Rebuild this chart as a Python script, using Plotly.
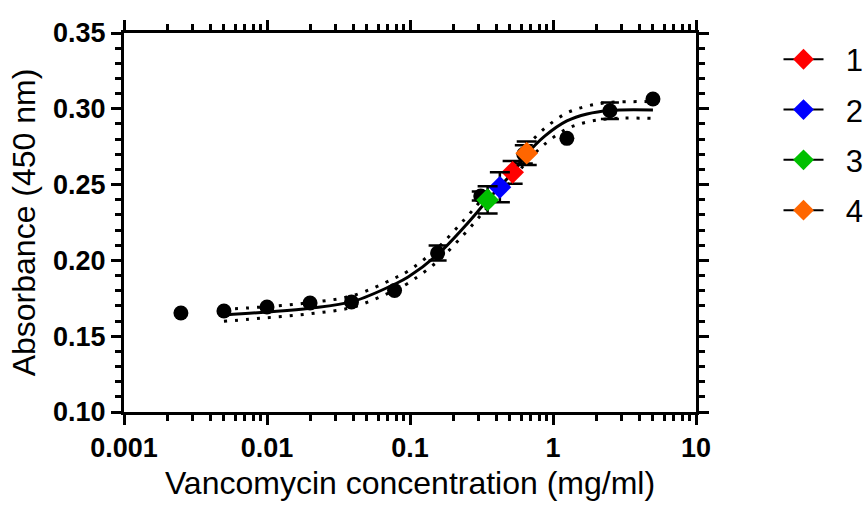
import plotly.graph_objects as go

# Standard curve: vancomycin dilution series (mg/ml) and mean absorbance at 450 nm
std_conc = [0.0025, 0.005, 0.01, 0.02, 0.039, 0.078, 0.156, 0.3125, 0.625, 1.25, 2.5, 5]
std_abs = [0.1653, 0.1666, 0.1693, 0.1719, 0.1726, 0.1801, 0.2049, 0.2425, 0.270, 0.2805, 0.2987, 0.3065]
std_err = [0, 0, 0, 0, 0, 0, 0.005, 0.003, 0.006, 0, 0.0054, 0]

# Fitted sigmoidal curve with its confidence band
fit_conc = [0.005, 0.01, 0.02, 0.04, 0.0785, 0.097, 0.155, 0.243, 0.349, 0.525, 0.657, 0.879, 1.25, 1.73, 2.5, 5]
fit_abs = [0.164, 0.166, 0.1685, 0.173, 0.1844, 0.189, 0.2036, 0.2227, 0.2398, 0.2583, 0.2702, 0.2821, 0.292, 0.2966, 0.2989, 0.2992]
band_hi = [0.1677, 0.1695, 0.1722, 0.1768, 0.1884, 0.193, 0.208, 0.2275, 0.2445, 0.263, 0.2752, 0.2873, 0.2972, 0.3018, 0.3042, 0.3047]
band_lo = [0.1598, 0.1622, 0.1648, 0.1692, 0.1804, 0.185, 0.1992, 0.218, 0.235, 0.2535, 0.2652, 0.2768, 0.2868, 0.2913, 0.2935, 0.2937]

# Samples read back on the curve
sample_names = ["1", "2", "3", "4"]
sample_conc = [0.522, 0.425, 0.349, 0.655]
sample_abs = [0.2581, 0.2482, 0.2399, 0.2707]
sample_err = [0.0075, 0.0099, 0.009, 0.0077]
sample_colors = ["#FF0000", "#0000FF", "#00C000", "#FF6600"]

x_ticks = [0.001, 0.01, 0.1, 1, 10]
x_ticktext = ["0.001", "0.01", "0.1", "1", "10"]

FONT = "Liberation Sans, Arial, sans-serif"

fig = go.Figure()

# confidence band (dotted)
for band in (band_hi, band_lo):
    fig.add_trace(go.Scatter(
        x=fit_conc, y=band, mode="lines", showlegend=False, hoverinfo="skip",
        line=dict(color="black", width=3, dash="3px,8px", shape="spline"),
    ))

# fitted curve
fig.add_trace(go.Scatter(
    x=fit_conc, y=fit_abs, mode="lines", showlegend=False,
    line=dict(color="black", width=3, shape="spline"),
))

# standards without / with error bars
no_err = [i for i, e in enumerate(std_err) if e == 0]
with_err = [i for i, e in enumerate(std_err) if e > 0]
fig.add_trace(go.Scatter(
    x=[std_conc[i] for i in no_err], y=[std_abs[i] for i in no_err],
    mode="markers", showlegend=False,
    marker=dict(symbol="circle", size=15, color="black"),
))
fig.add_trace(go.Scatter(
    x=[std_conc[i] for i in with_err], y=[std_abs[i] for i in with_err],
    mode="markers", showlegend=False,
    marker=dict(symbol="circle", size=15, color="black"),
    error_y=dict(type="data", array=[std_err[i] for i in with_err],
                 color="black", thickness=2.5, width=9),
))

# samples (legend text padded so it sits clear of the symbol)
for name, cx, cy, ce, col in zip(sample_names, sample_conc, sample_abs, sample_err, sample_colors):
    fig.add_trace(go.Scatter(
        x=[cx], y=[cy], name="\u00a0\u00a0" + name, mode="lines+markers",
        line=dict(color="black", width=2),
        marker=dict(symbol="diamond", size=17.5, color=col),
        error_y=dict(type="data", array=[ce], color="black", thickness=2.5, width=10),
        legendgroup=name,
    ))

minor_x = [m * 10 ** e for e in range(-3, 1) for m in range(2, 10)]

axis_common = dict(
    showline=True, linewidth=3, linecolor="black", mirror="allticks",
    ticks="outside", tickwidth=3, tickcolor="black", ticklen=10,
    showgrid=False, zeroline=False,
    tickfont=dict(family=FONT, size=27, color="black", weight="bold"),
)

fig.update_layout(
    width=865, height=509,
    margin=dict(l=124, r=169, t=33, b=97, autoexpand=False),
    paper_bgcolor="white", plot_bgcolor="white",
    font=dict(family=FONT, color="black"),
    xaxis=dict(
        type="log", range=[-3, 1],
        tickmode="array", tickvals=x_ticks, ticktext=x_ticktext,
        minor=dict(tickmode="array", tickvals=minor_x, ticks="outside",
                   ticklen=6, tickwidth=2.5, tickcolor="black"),
        title=dict(text="Vancomycin concentration (mg/ml)",
                   font=dict(family=FONT, size=32, color="black"), standoff=10),
        **axis_common,
    ),
    yaxis=dict(
        range=[0.10, 0.35], tick0=0.10, dtick=0.05, tickformat=".2f",
        minor=dict(dtick=0.01, tick0=0.10, ticks="outside",
                   ticklen=6, tickwidth=2.5, tickcolor="black"),
        title=dict(text="Absorbance (450 nm)",
                   font=dict(family=FONT, size=32, color="black"), standoff=8),
        **axis_common,
    ),
    legend=dict(
        xref="container", yref="container",
        x=0.9, y=0.936, xanchor="left", yanchor="top",
        font=dict(family=FONT, size=31, color="black"),
        itemwidth=40, tracegroupgap=7, bgcolor="rgba(0,0,0,0)",
    ),
)

fig.write_html("out.html")
